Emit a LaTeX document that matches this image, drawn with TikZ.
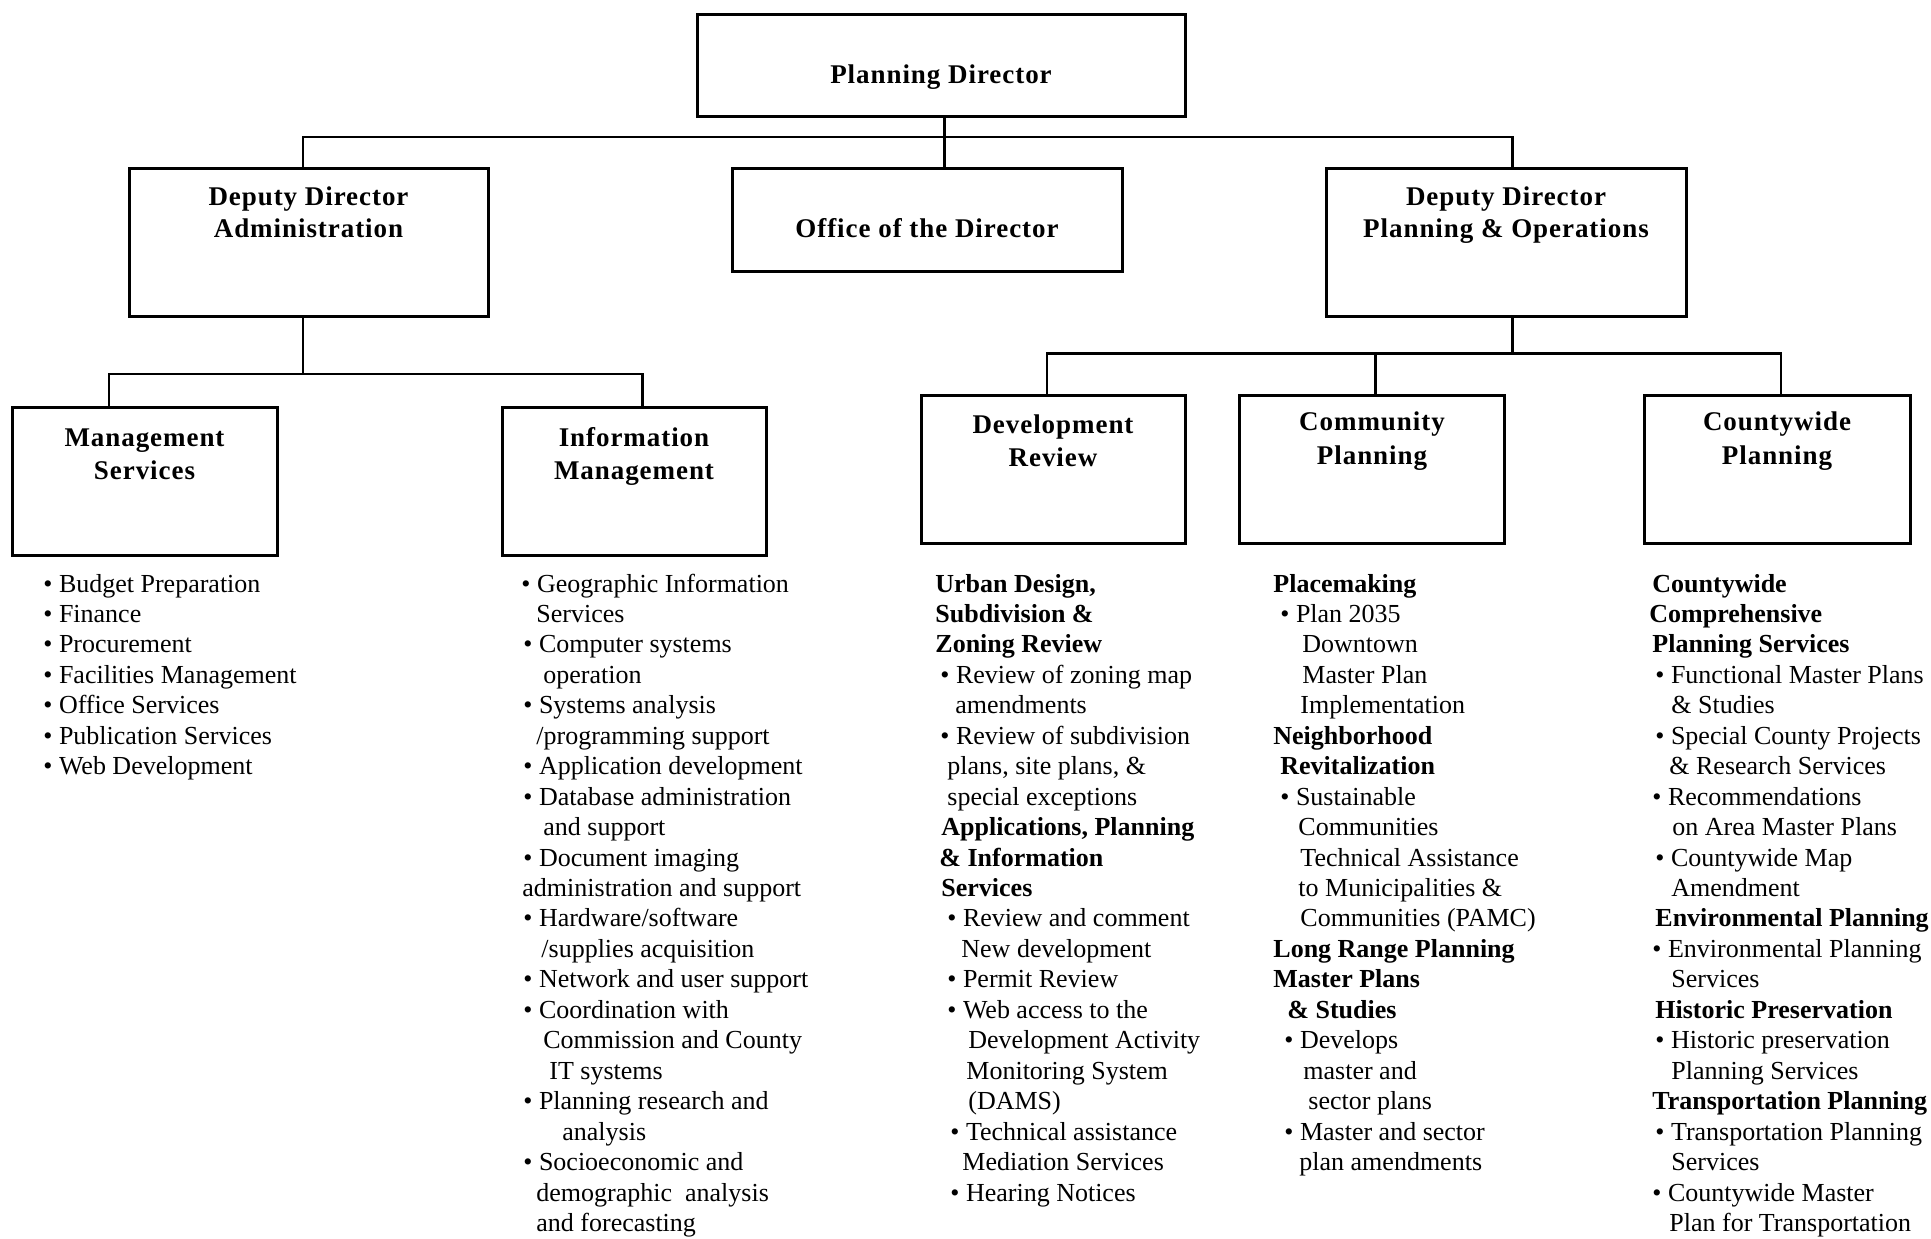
\documentclass[tikz,border=0pt]{standalone}
\usepackage{fontspec}
\setmainfont{Liberation Serif}
\newfontfamily\titlefont{Liberation Serif}[LetterSpace=3.5]
\usetikzlibrary{fit}
\newcommand\bul{\char"2022\ }
% one line of a duty list: x position and text, rows on a fixed pitch
\newcommand\dutylist[2]{%
  \foreach \lx/\lt [count=\li] in {#2}{%
    \node[item] (#1-\li) at (\lx,{592+(\li-1)*30.45}) {\lt};}}
\begin{document}
\begin{tikzpicture}[x=0.5pt,y=-0.5pt,
  box/.style={draw, line width=1.5pt, inner sep=0pt},
  title/.style={font=\titlefont\bfseries\fontsize{13.5pt}{16pt}\selectfont, inner sep=0pt, anchor=base},
  item/.style={font=\fontsize{13pt}{15pt}\selectfont, inner sep=0pt, anchor=base west},
  conn/.style={line width=1.3pt}]
\useasboundingbox (0,0) rectangle (1931,1238);

% ---- boxes ----
\node[box, fit={(697,14) (1185,116)}] (pd) {};
\node[box, fit={(129,168) (488,316)}] (dda) {};
\node[box, fit={(732,168) (1122,271)}] (ofd) {};
\node[box, fit={(1326,168) (1686,316)}] (ddp) {};
\node[box, fit={(12,407) (277,555)}] (ms) {};
\node[box, fit={(502,407) (766,555)}] (im) {};
\node[box, fit={(921,395) (1185,543)}] (dr) {};
\node[box, fit={(1239,395) (1504,543)}] (cp) {};
\node[box, fit={(1644,395) (1910,543)}] (cw) {};

% ---- box titles ----
\node[title] (pd-a) at (941,83) {Planning Director};
\node[title] (dda-a) at (308.5,205) {Deputy Director};
\node[title] (dda-b) at (308.5,237.5) {Administration};
\node[title] (ofd-a) at (927,237.5) {Office of the Director};
\node[title] (ddp-a) at (1506,205) {Deputy Director};
\node[title] (ddp-b) at (1506,237.5) {Planning \& Operations};
\node[title] (ms-a) at (144.5,446.5) {Management};
\node[title] (ms-b) at (144.5,479) {Services};
\node[title] (im-a) at (634,446.5) {Information};
\node[title] (im-b) at (634,479) {Management};
\node[title] (dr-a) at (1053,433) {Development};
\node[title] (dr-b) at (1053,466) {Review};
\node[title] (cp-a) at (1372,430) {Community};
\node[title] (cp-b) at (1372,464) {Planning};
\node[title] (cw-a) at (1777,430) {Countywide};
\node[title] (cw-b) at (1777,464) {Planning};

% ---- connector levels and drop lines ----
\coordinate (busA) at (0,137);
\coordinate (busB) at (0,374);
\coordinate (busC) at (0,353.5);
\coordinate (xPD) at (944.5,0);
\coordinate (xDA) at (302.8,0);
\coordinate (xDP) at (1512.6,0);
\coordinate (xMS) at (109,0);
\coordinate (xIM) at (642.5,0);
\coordinate (xDR) at (1047,0);
\coordinate (xCP) at (1375.6,0);
\coordinate (xCW) at (1781,0);

\draw[conn] (pd.south -| xPD) -- (ofd.north -| xPD);
\draw[conn] (dda.north -| xDA) -- (busA -| xDA) -- (busA -| xDP) -- (ddp.north -| xDP);
\draw[conn] (dda.south -| xDA) -- (busB -| xDA);
\draw[conn] (ms.north -| xMS) -- (busB -| xMS) -- (busB -| xIM) -- (im.north -| xIM);
\draw[conn] (ddp.south -| xDP) -- (busC -| xDP);
\draw[conn] (dr.north -| xDR) -- (busC -| xDR) -- (busC -| xCW) -- (cw.north -| xCW);
\draw[conn] (cp.north -| xCP) -- (busC -| xCP);

% ---- duty lists ----
\dutylist{msl}{43/{\bul Budget Preparation},
  43/{\bul Finance},
  43/{\bul Procurement},
  43/{\bul Facilities Management},
  43/{\bul Office Services},
  43/{\bul Publication Services},
  43/{\bul Web Development}}

\dutylist{iml}{521/{\bul Geographic Information},
  536/{Services},
  523/{\bul Computer systems},
  543/{operation},
  523/{\bul Systems analysis},
  536/{/programming support},
  523/{\bul Application development},
  523/{\bul Database administration},
  543/{and support},
  523/{\bul Document imaging},
  522/{administration and support},
  523/{\bul Hardware/software},
  541/{/supplies acquisition},
  523/{\bul Network and user support},
  523/{\bul Coordination with},
  543/{Commission and County},
  549/{IT systems},
  523/{\bul Planning research and},
  562/{analysis},
  523/{\bul Socioeconomic and},
  536/{demographic~ analysis},
  536/{and forecasting}}

\dutylist{drl}{935/{\textbf{Urban Design,}},
  935/{\textbf{Subdivision \&}},
  935/{\textbf{Zoning Review}},
  940/{\bul Review of zoning map},
  955/{amendments},
  940/{\bul Review of subdivision},
  947/{plans, site plans, \&},
  947/{special exceptions},
  941/{\textbf{Applications, Planning}},
  939/{\textbf{\& Information}},
  941/{\textbf{Services}},
  947/{\bul Review and comment},
  961/{New development},
  947/{\bul Permit Review},
  947/{\bul Web access to the},
  968/{Development Activity},
  966/{Monitoring System},
  968/{(DAMS)},
  950/{\bul Technical assistance},
  962/{Mediation Services},
  950/{\bul Hearing Notices}}

\dutylist{cpl}{1273/{\textbf{Placemaking}},
  1280/{\bul Plan 2035},
  1302/{Downtown},
  1302/{Master Plan},
  1300/{Implementation},
  1273/{\textbf{Neighborhood}},
  1280/{\textbf{Revitalization}},
  1280/{\bul Sustainable},
  1298/{Communities},
  1300/{Technical Assistance},
  1298/{to Municipalities \&},
  1300/{Communities (PAMC)},
  1273/{\textbf{Long Range Planning}},
  1273/{\textbf{Master Plans}},
  1287/{\textbf{\& Studies}},
  1284/{\bul Develops},
  1303/{master and},
  1308/{sector plans},
  1284/{\bul Master and sector},
  1299/{plan amendments}}

\dutylist{cwl}{1652/{\textbf{Countywide}},
  1649/{\textbf{Comprehensive}},
  1652/{\textbf{Planning Services}},
  1655/{\bul Functional Master Plans},
  1671/{\& Studies},
  1655/{\bul Special County Projects},
  1669/{\& Research Services},
  1652/{\bul Recommendations},
  1672/{on Area Master Plans},
  1655/{\bul Countywide Map},
  1671/{Amendment},
  1655/{\textbf{Environmental Planning}},
  1652/{\bul Environmental Planning},
  1671/{Services},
  1655/{\textbf{Historic Preservation}},
  1655/{\bul Historic preservation},
  1671/{Planning Services},
  1652/{\textbf{Transportation Planning}},
  1655/{\bul Transportation Planning},
  1671/{Services},
  1652/{\bul Countywide Master},
  1669/{Plan for Transportation}}
\end{tikzpicture}
\end{document}
